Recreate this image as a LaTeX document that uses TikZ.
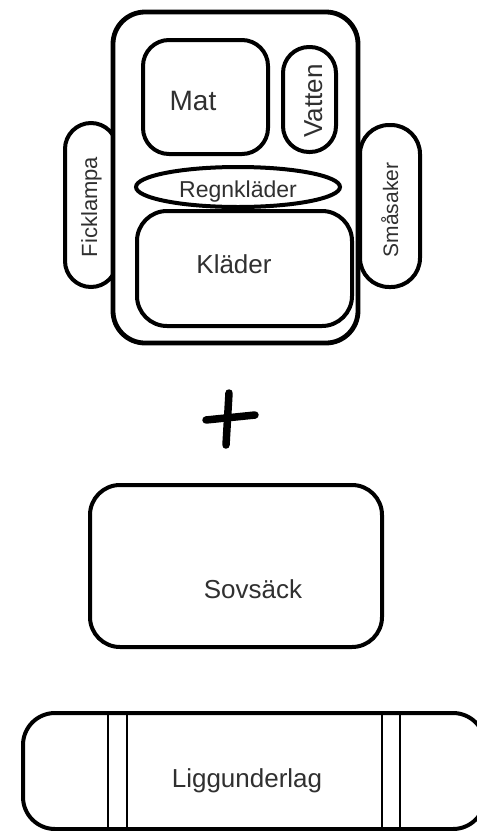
\documentclass[tikz,border=0pt]{standalone}
\usepackage{fontspec}
\setmainfont{Liberation Sans}
\usetikzlibrary{shapes.geometric}
\definecolor{txt}{HTML}{303030}
\begin{document}
\begin{tikzpicture}[x=1pt,y=-1pt,
  box/.style={draw=black, line width=4pt, fill=white, rounded corners=#1,
              inner sep=0pt, outer sep=0pt, rectangle},
  oval/.style={draw=black, line width=4pt, fill=white, ellipse,
              inner sep=0pt, outer sep=0pt},
  lbl/.style={text=txt, inner sep=0pt, anchor=base, font=\fontsize{#1}{#1}\selectfont},
  strap/.style={draw=black, line width=1.8pt},
  plusline/.style={draw=black, line width=7.5pt, line cap=round},
]
\useasboundingbox (0,0) rectangle (477,831);
\clip (0,0) rectangle (477,831);

% side pockets (behind the pack)
\node[box=26, minimum width=52, minimum height=164] (fick) at (91,205) {};
\node[box=29, minimum width=60, minimum height=162] (sma) at (390,206) {};

% backpack
\node[box=32, line width=4.8pt, minimum width=245, minimum height=331] (pack) at (235.5,177.5) {};

% compartments
\node[box=26, minimum width=125, minimum height=114] (mat) at (205.5,97) {};
\node[box=26, minimum width=53, minimum height=105] (vatten) at (309.5,99.5) {};
\node[oval, minimum width=204, minimum height=40] (regn) at (238,187) {};
\node[box=30, minimum width=215, minimum height=115] (klader) at (244.5,268.5) {};

% labels
\node[lbl=28] (tmat) at (193,110) {Mat};
\node[lbl=26, rotate=90] (tvatten) at (322,101) {Vatten};
\node[lbl=23] (tregn) at (238,197) {Regnkläder};
\node[lbl=26] (tklader) at (234,273) {Kläder};
\node[lbl=22, rotate=90] (tfick) at (97,207) {Ficklampa};
\node[lbl=21, rotate=90] (tsma) at (398,210) {Småsaker};

% plus sign
\coordinate (p1) at (206,420);
\coordinate (p2) at (255,415);
\coordinate (p3) at (229,393);
\coordinate (p4) at (226,445);
\draw[plusline] (p1) -- (p2);
\draw[plusline] (p3) -- (p4);

% sleeping bag
\node[box=30, minimum width=292, minimum height=162] (sov) at (236,566) {};
\node[lbl=26] (tsov) at (253,598) {Sovsäck};

% sleeping pad
\node[box=32, minimum width=462, minimum height=116] (ligg) at (254,771) {};
\foreach \x [count=\i] in {108,127,382,400} {
  \draw[strap] (\x,713) -- (\x,829);
}
\node[lbl=26] (tligg) at (247,787) {Liggunderlag};
\end{tikzpicture}
\end{document}
